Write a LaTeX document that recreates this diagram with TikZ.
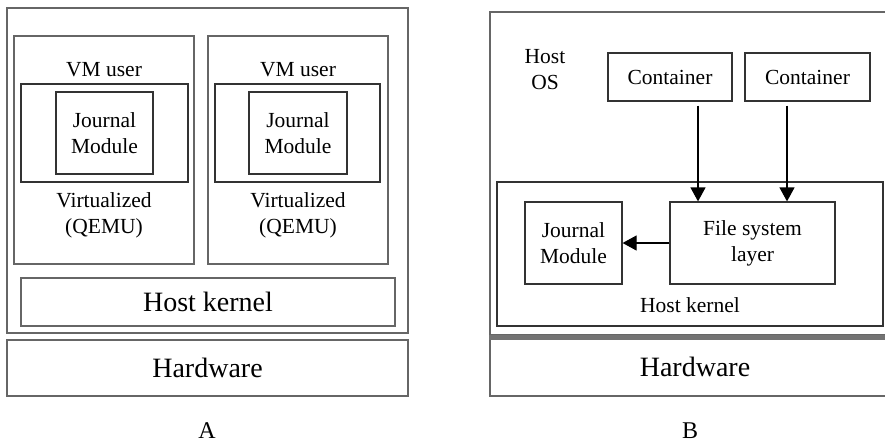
\documentclass[tikz,border=0pt]{standalone}
\usepackage{fontspec}
\setmainfont{Liberation Serif}
\usetikzlibrary{arrows.meta}
\begin{document}
\begin{tikzpicture}[x=1pt,y=-1pt,
  txt/.style={font=\fontsize{21.5}{26}\selectfont, align=center, inner sep=0pt},
  bigtxt/.style={font=\fontsize{28}{32}\selectfont, inner sep=0pt},
  frame/.style={draw=black!60, line width=1.5pt, inner sep=0pt},
  box/.style={draw=black!80, line width=1.2pt, inner sep=0pt, align=center,
    font=\fontsize{21.5}{26}\selectfont},
  arr/.style={-{Triangle[length=14pt,width=15pt]}, line width=1.2pt}]
\useasboundingbox (0,0) rectangle (885,444);
\clip (0,0) rectangle (885,444);

% ---------- A: virtual machines ----------
\node[frame, minimum width=401pt, minimum height=325pt] (outerA) at (207.5,170.5) {};
\node[frame, minimum width=180pt, minimum height=228pt] (vm1) at (104,150) {};
\node[frame, minimum width=180pt, minimum height=228pt] (vm2) at (298,150) {};
\node[box, minimum width=167pt, minimum height=98pt] (usr1) at (104.5,133) {};
\node[box, minimum width=165pt, minimum height=98pt] (usr2) at (297.5,133) {};
\node[box, minimum width=97pt, minimum height=82pt] (jm1) at (104.5,133) {Journal\\Module};
\node[box, minimum width=98pt, minimum height=82pt] (jm2) at (298,133) {Journal\\Module};
\node[txt] (vmu1) at (104,70) {VM user};
\node[txt] (vmu2) at (298,70) {VM user};
\node[txt] (qemu1) at (104,215) {Virtualized\\(QEMU)};
\node[txt] (qemu2) at (298,215) {Virtualized\\(QEMU)};
\node[frame, minimum width=374pt, minimum height=48pt, bigtxt] (hkA) at (208,302) {Host kernel};
\node[frame, minimum width=401pt, minimum height=56pt, bigtxt] (hwA) at (207.5,368) {Hardware};
\node[font=\fontsize{24}{28}\selectfont, inner sep=0pt] (labA) at (207,431) {A};

% ---------- B: containers ----------
\node[frame, minimum width=410pt, minimum height=323pt] (outerB) at (695,173.5) {};
\node[txt] (hostos) at (545,70) {Host\\OS};
\node[box, minimum width=124pt, minimum height=48pt] (c1) at (670,77) {Container};
\node[box, minimum width=125pt, minimum height=48pt] (c2) at (807.5,77) {Container};
\node[box, minimum width=386pt, minimum height=144pt] (hkB) at (690,254) {};
\node[txt] (hkBl) at (690,305) {Host kernel};
\node[box, minimum width=97pt, minimum height=82pt] (jmB) at (573.5,243) {Journal\\Module};
\node[box, minimum width=165pt, minimum height=82pt] (fs) at (752.5,243) {File system\\layer};
\node[frame, minimum width=410pt, minimum height=58pt, bigtxt] (hwB) at (695,367) {Hardware};
\draw[black!55, line width=5pt] (hwB.north west) -- (hwB.north east);
\node[font=\fontsize{24}{28}\selectfont, inner sep=0pt] (labB) at (690,431) {B};

\draw[arr, shorten <=4pt] ([xshift=28pt]c1.south) -- ([xshift=28pt]c1.south |- fs.north);
\draw[arr, shorten <=4pt] ([xshift=-20.5pt]c2.south) -- ([xshift=-20.5pt]c2.south |- fs.north);
\draw[arr] (fs.west) -- (jmB.east);
\end{tikzpicture}
\end{document}
